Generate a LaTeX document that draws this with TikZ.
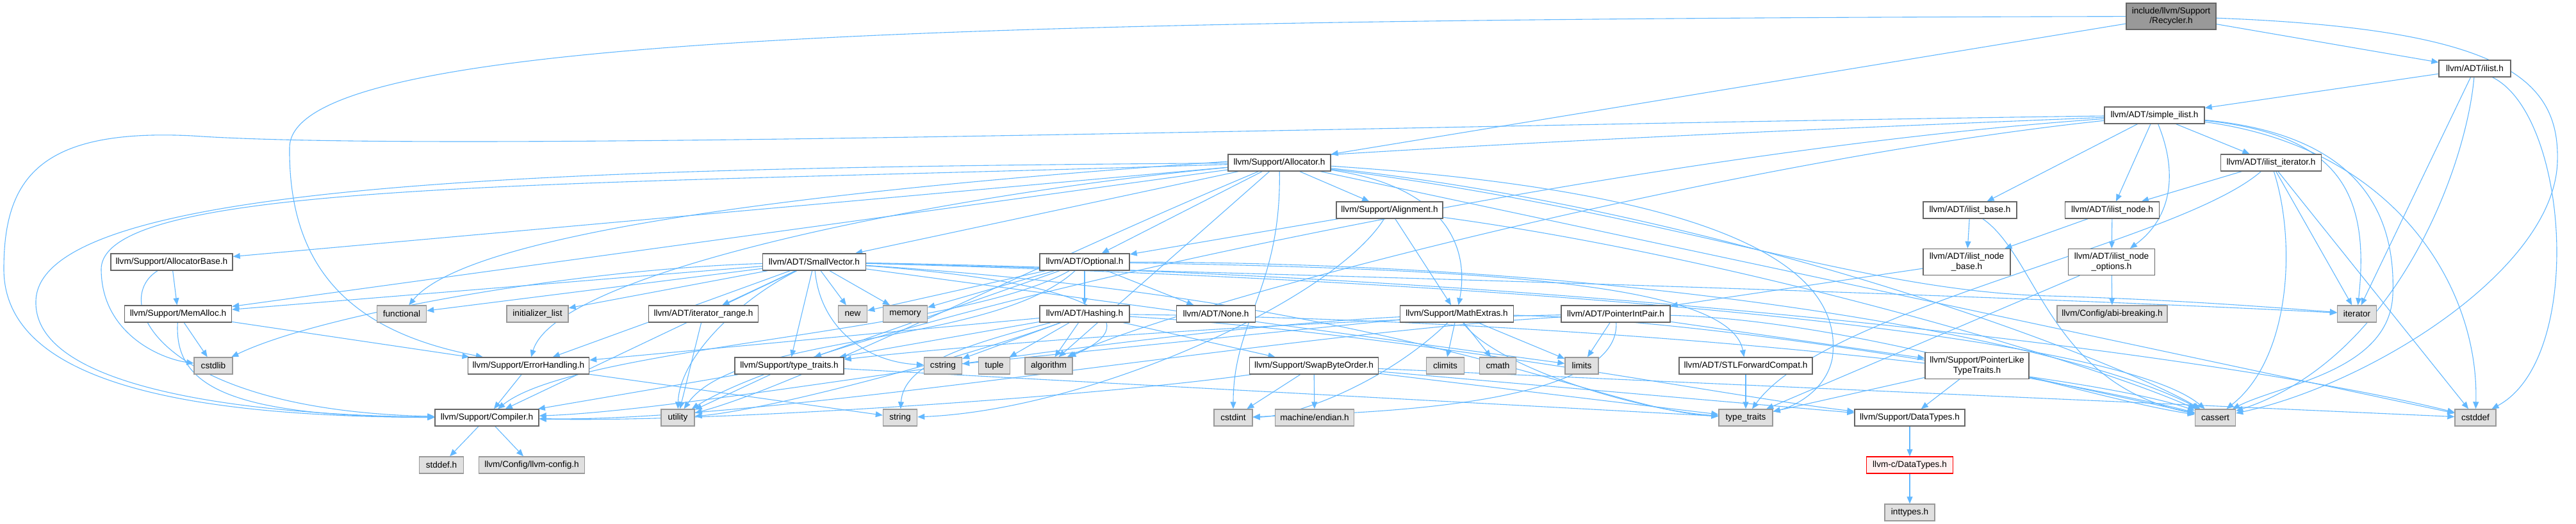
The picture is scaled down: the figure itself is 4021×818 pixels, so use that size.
\documentclass[tikz,border=0pt]{standalone}
\usepackage{fontspec}
\setmainfont{Liberation Sans}
\usepackage{tikz}
\usetikzlibrary{arrows.meta, backgrounds}
\definecolor{edgeblue}{RGB}{99,184,255}
\definecolor{hdrline}{RGB}{102,102,102}
\definecolor{sysline}{RGB}{153,153,153}
\definecolor{sysfill}{RGB}{224,224,224}
\definecolor{rootfill}{RGB}{153,153,153}
\definecolor{cutline}{RGB}{255,0,0}
\definecolor{cutfill}{RGB}{255,240,240}

\begin{document}
\begin{tikzpicture}[x=0.5pt, y=-0.5pt,
  font=\fontsize{6.8}{7.6}\selectfont,
  hdr/.style={draw=hdrline, fill=white, line width=0.7pt, minimum height=13pt,
              inner xsep=1pt, inner ysep=0pt, align=center},
  sysh/.style={hdr, draw=sysline, fill=sysfill},
  twoh/.style={hdr, minimum height=20.5pt},
  rooth/.style={twoh, fill=rootfill},
  cuth/.style={hdr, draw=cutline, fill=cutfill},
  incl/.style={draw=edgeblue, line width=0.55pt,
               -{Triangle[length=5.5pt, width=4.5pt]}}]
  \useasboundingbox (0,0) rectangle (4021,818);

  % file itself
  \node[rooth, minimum width=70pt] (recycler) at (3389,25.5) {include/llvm/Support\\/Recycler.h};

  % upper levels
  \node[hdr, minimum width=56pt] (ilist) at (3863,107) {llvm/ADT/ilist.h};
  \node[hdr, minimum width=78pt] (simpleilist) at (3363,180) {llvm/ADT/simple\_ilist.h};
  \node[hdr, minimum width=80pt] (allocator) at (1997,254) {llvm/Support/Allocator.h};
  \node[hdr, minimum width=78.5pt] (ilistiterator) at (3545,254) {llvm/ADT/ilist\_iterator.h};
  \node[hdr, minimum width=83pt] (alignment) at (2169,328) {llvm/Support/Alignment.h};
  \node[hdr, minimum width=73pt] (ilistbase) at (3075,328) {llvm/ADT/ilist\_base.h};
  \node[hdr, minimum width=73.5pt] (ilistnode) at (3297,328) {llvm/ADT/ilist\_node.h};
  \node[hdr, minimum width=95pt] (allocatorbase) at (268,409) {llvm/Support/AllocatorBase.h};
  \node[hdr, minimum width=80.5pt] (smallvector) at (1271,409) {llvm/ADT/SmallVector.h};
  \node[hdr, minimum width=70pt] (optional) at (1693,409) {llvm/ADT/Optional.h};
  \node[twoh, minimum width=68pt] (nodebase) at (3070,409) {llvm/ADT/ilist\_node\\\_base.h};
  \node[twoh, minimum width=67.5pt] (nodeoptions) at (3296,409) {llvm/ADT/ilist\_node\\\_options.h};

  % middle row
  \node[hdr, minimum width=83.5pt] (memalloc) at (278,490) {llvm/Support/MemAlloc.h};
  \node[sysh, minimum width=38.5pt] (functional) at (627,490) {functional};
  \node[sysh, minimum width=48pt] (initializerlist) at (839,490) {initializer\_list};
  \node[hdr, minimum width=85.5pt] (iteratorrange) at (1098,490) {llvm/ADT/iterator\_range.h};
  \node[sysh, minimum width=22.5pt] (newh) at (1331,490) {new};
  \node[sysh, minimum width=34.5pt] (memory) at (1413,490) {memory};
  \node[hdr, minimum width=70pt] (hashing) at (1693,490) {llvm/ADT/Hashing.h};
  \node[hdr, minimum width=61.5pt] (none) at (1898,490) {llvm/ADT/None.h};
  \node[hdr, minimum width=88.5pt] (mathextras) at (2274,490) {llvm/Support/MathExtras.h};
  \node[hdr, minimum width=85pt] (pointerintpair) at (2522,490) {llvm/ADT/PointerIntPair.h};
  \node[sysh, minimum width=86pt] (abibreaking) at (3297,490) {llvm/Config/abi-breaking.h};
  \node[sysh, minimum width=30.5pt] (iteratorh) at (3679,490) {iterator};

  \node[sysh, minimum width=30pt] (cstdlib) at (333,571) {cstdlib};
  \node[hdr, minimum width=94.5pt] (errorhandling) at (825,571) {llvm/Support/ErrorHandling.h};
  \node[hdr, minimum width=85pt] (typetraitsh) at (1232,571) {llvm/Support/type\_traits.h};
  \node[sysh, minimum width=29.5pt] (cstring) at (1472,571) {cstring};
  \node[sysh, minimum width=24.5pt] (tuple) at (1552,571) {tuple};
  \node[sysh, minimum width=37pt] (algorithm) at (1637,571) {algorithm};
  \node[hdr, minimum width=100.5pt] (swapbyteorder) at (2051,571) {llvm/Support/SwapByteOrder.h};
  \node[sysh, minimum width=29.5pt] (climits) at (2256,571) {climits};
  \node[sysh, minimum width=28.5pt] (cmath) at (2338,571) {cmath};
  \node[sysh, minimum width=26pt] (limits) at (2469,571) {limits};
  \node[hdr, minimum width=104pt] (stlforward) at (2725,571) {llvm/ADT/STLForwardCompat.h};
  \node[twoh, minimum width=81pt] (pointerlike) at (3086,571) {llvm/Support/PointerLike\\TypeTraits.h};

  % lower rows
  \node[hdr, minimum width=81pt] (compiler) at (760,652) {llvm/Support/Compiler.h};
  \node[sysh, minimum width=26pt] (utility) at (1058,652) {utility};
  \node[sysh, minimum width=26.5pt] (string) at (1405,652) {string};
  \node[sysh, minimum width=30pt] (cstdint) at (1925,652) {cstdint};
  \node[sysh, minimum width=61.5pt] (endian) at (2052,652) {machine/endian.h};
  \node[sysh, minimum width=42pt] (typetraits) at (2725,652) {type\_traits};
  \node[hdr, minimum width=86pt] (datatypes) at (2981,652) {llvm/Support/DataTypes.h};
  \node[sysh, minimum width=31.5pt] (cassert) at (3458,652) {cassert};
  \node[sysh, minimum width=32pt] (cstddef) at (3864,652) {cstddef};

  \node[sysh, minimum width=34.5pt] (stddef) at (689,726) {stddef.h};
  \node[sysh, minimum width=82.5pt] (llvmconfig) at (830,726) {llvm/Config/llvm-config.h};
  \node[cuth, minimum width=67.5pt] (cdatatypes) at (2981,726) {llvm-c/DataTypes.h};
  \node[sysh, minimum width=39pt] (inttypes) at (2981,800) {inttypes.h};

  \begin{pgfonlayer}{background}
  % short includes
  \foreach \src/\dst in {recycler/ilist, recycler/allocator, ilist/simpleilist, ilist/iteratorh,
      simpleilist/ilistbase, simpleilist/ilistnode, simpleilist/ilistiterator,
      ilistiterator/ilistnode, ilistiterator/iteratorh, ilistiterator/cstddef,
      ilistbase/nodebase, ilistnode/nodebase, ilistnode/nodeoptions, nodebase/pointerintpair,
      nodeoptions/abibreaking, nodeoptions/typetraits,
      allocator/optional, allocator/smallvector, allocator/alignment, allocator/allocatorbase,
      allocator/memalloc, allocator/algorithm, allocator/cstddef,
      alignment/optional, alignment/mathextras, allocatorbase/memalloc,
      memalloc/cstdlib, memalloc/errorhandling,
      smallvector/iteratorrange, smallvector/newh, smallvector/memory, smallvector/typetraitsh,
      smallvector/functional, smallvector/initializerlist, smallvector/memalloc,
      smallvector/errorhandling, smallvector/compiler, smallvector/limits,
      optional/newh, optional/memory, optional/hashing, optional/none, optional/typetraitsh,
      hashing/cstring, hashing/tuple, hashing/algorithm, hashing/typetraitsh,
      hashing/swapbyteorder, hashing/errorhandling,
      mathextras/climits, mathextras/cmath, mathextras/limits, mathextras/cstring,
      pointerintpair/limits, pointerintpair/pointerlike, iteratorrange/utility,
      errorhandling/compiler, errorhandling/string,
      typetraitsh/utility, typetraitsh/compiler, typetraitsh/typetraits,
      swapbyteorder/endian, swapbyteorder/cstdint, swapbyteorder/typetraits,
      swapbyteorder/datatypes, swapbyteorder/cstddef, stlforward/typetraits,
      pointerlike/datatypes, pointerlike/cassert, pointerlike/typetraits,
      compiler/stddef, compiler/llvmconfig, datatypes/cdatatypes, cdatatypes/inttypes}
    \draw[incl] (\src) -- (\dst);

  % Recycler.h and ilist.h
  \draw[incl] (recycler) .. controls (1400,30) and (455,60) .. (452,230)
    .. controls (450,430) and (560,520) .. (errorhandling);
  \draw[incl] (recycler) .. controls (3900,45) and (3995,120) .. (3992,250)
    .. controls (3990,420) and (3700,600) .. (cassert);
  \draw[incl] (ilist) .. controls (3850,260) and (3740,560) .. (cassert);
  \draw[incl] (ilist) .. controls (4010,180) and (4035,560) .. (cstddef);

  % simple_ilist.h
  \draw[incl] (simpleilist) .. controls (3400,270) and (3390,340) .. (nodeoptions);
  \draw[incl] (simpleilist) .. controls (3650,210) and (3700,300) .. (iteratorh);
  \draw[incl] (simpleilist) .. controls (3680,210) and (3740,330) .. (3735,460)
    .. controls (3730,580) and (3560,600) .. (cassert);
  \draw[incl] (simpleilist) .. controls (3740,230) and (3870,450) .. (cstddef);
  \draw[incl] (simpleilist) .. controls (2200,195) and (700,240) .. (300,212)
    .. controls (60,200) and (6,280) .. (6,420) .. controls (6,600) and (300,650) .. (compiler);
  \draw[incl] (simpleilist) .. controls (2400,220) and (800,280) .. (functional);
  \draw[incl] (simpleilist) .. controls (2700,250) and (1850,470) .. (algorithm);
  \draw[incl] (simpleilist) .. controls (2500,240) and (1300,500) .. (utility);
  \draw[incl] (ilistiterator) .. controls (3585,380) and (3575,560) .. (cassert);
  \draw[incl] (ilistiterator) .. controls (3400,380) and (2850,480) .. (typetraits);
  \draw[incl] (ilistbase) .. controls (3180,400) and (3200,600) .. (cassert);

  % Allocator.h
  \draw[incl] (allocator) .. controls (900,262) and (60,280) .. (56,470)
    .. controls (52,610) and (400,648) .. (compiler);
  \draw[incl] (allocator) .. controls (1500,300) and (870,420) .. (errorhandling);
  \draw[incl] (allocator) .. controls (2250,290) and (2295,380) .. (mathextras);
  \draw[incl] (allocator) .. controls (2700,330) and (3300,560) .. (cassert);
  \draw[incl] (allocator) .. controls (2000,450) and (1925,500) .. (cstdint);
  \draw[incl] (allocator) .. controls (900,290) and (160,280) .. (158,420)
    .. controls (158,520) and (250,560) .. (cstdlib);
  \draw[incl] (allocator) .. controls (2600,330) and (2900,455) .. (3200,462)
    .. controls (3400,468) and (3550,480) .. (iteratorh);
  \draw[incl] (allocator) .. controls (2700,300) and (2880,420) .. (2860,560)
    .. controls (2850,610) and (2800,635) .. (typetraits);
  \draw[incl] (allocator) .. controls (1600,420) and (1250,600) .. (utility);
  \draw[incl] (alignment) .. controls (2700,400) and (3250,560) .. (cassert);
  \draw[incl] (alignment) .. controls (2080,470) and (1700,640) .. (string);
  \draw[incl] (allocatorbase) .. controls (170,470) and (250,640) .. (compiler);
  \draw[incl] (memalloc) .. controls (272,600) and (350,650) .. (compiler);

  % SmallVector.h
  \draw[incl] (smallvector) .. controls (1280,510) and (1350,565) .. (cstring);
  \draw[incl] (smallvector) .. controls (1700,440) and (1800,500) .. (algorithm);
  \draw[incl] (smallvector) .. controls (1150,470) and (1060,560) .. (utility);
  \draw[incl] (smallvector) .. controls (900,420) and (500,490) .. (cstdlib);
  \draw[incl] (smallvector) .. controls (2400,440) and (3300,520) .. (cassert);
  \draw[incl] (smallvector) .. controls (2500,430) and (3500,560) .. (cstddef);
  \draw[incl] (smallvector) .. controls (2500,440) and (3300,470) .. (iteratorh);
  \draw[incl] (smallvector) .. controls (2200,470) and (2500,640) .. (typetraits);

  % Optional.h and Hashing.h
  \draw[incl] (optional) .. controls (2300,420) and (2700,440) .. (stlforward);
  \draw[incl] (optional) .. controls (1500,520) and (900,540) .. (compiler);
  \draw[incl] (optional) .. controls (2600,410) and (3250,540) .. (cassert);
  \draw[incl] (optional) .. controls (1550,540) and (1150,520) .. (utility);
  \draw[incl] (hashing) .. controls (1500,540) and (1410,570) .. (string);
  \draw[incl] (hashing) .. controls (1500,560) and (1200,640) .. (utility);
  \draw[incl] (hashing) .. controls (2500,500) and (3250,580) .. (cassert);
  \draw[incl] (hashing) .. controls (2200,520) and (2700,620) .. (datatypes);

  % MathExtras.h, PointerIntPair.h, SwapByteOrder.h
  \draw[incl] (mathextras) .. controls (2330,570) and (2550,640) .. (typetraits);
  \draw[incl] (mathextras) .. controls (1700,520) and (1100,640) .. (compiler);
  \draw[incl] (mathextras) .. controls (2160,600) and (2020,650) .. (cstdint);
  \draw[incl] (mathextras) .. controls (2700,500) and (3250,600) .. (cassert);
  \draw[incl] (pointerintpair) .. controls (2900,500) and (3250,620) .. (cassert);
  \draw[incl] (pointerintpair) .. controls (2000,520) and (1200,660) .. (compiler);
  \draw[incl] (pointerintpair) .. controls (2530,640) and (2100,645) .. (cstdint);
  \draw[incl] (pointerintpair) .. controls (2000,500) and (1500,540) .. (typetraitsh);
  \draw[incl] (swapbyteorder) .. controls (1700,620) and (1100,660) .. (compiler);
  \end{pgfonlayer}
\end{tikzpicture}
\end{document}
